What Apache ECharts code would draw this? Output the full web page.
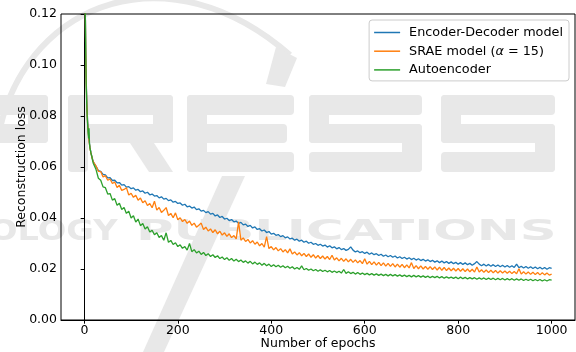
<!DOCTYPE html>
<html>
<head>
<meta charset="utf-8">
<script src="https://cdn.jsdelivr.net/npm/echarts@6/dist/echarts.min.js"></script>
<style>
html,body{margin:0;padding:0;background:#fff;}
#chart{width:576px;height:352px;}
</style>
</head>
<body>
<div id="chart"></div>
<script>
const epochs = [0,1,2,3,4,5,6,7,8,9,10,11,12,13,14,15,16,17,18,19,20,
25,30,35,40,45,50,55,60,65,70,75,80,85,90,95,100,
105,110,115,120,125,130,135,140,145,150,155,160,165,170,175,180,185,190,195,200,
205,210,215,220,225,230,235,240,245,250,255,260,265,270,275,280,285,290,295,300,
305,310,315,320,325,330,335,340,345,350,355,360,365,370,375,380,385,390,395,400,
405,410,415,420,425,430,435,440,445,450,455,460,465,470,475,480,485,490,495,500,
505,510,515,520,525,530,535,540,545,550,555,560,565,570,575,580,585,590,595,600,
605,610,615,620,625,630,635,640,645,650,655,660,665,670,675,680,685,690,695,700,
705,710,715,720,725,730,735,740,745,750,755,760,765,770,775,780,785,790,795,800,
805,810,815,820,825,830,835,840,845,850,855,860,865,870,875,880,885,890,895,900,
905,910,915,920,925,930,935,940,945,950,955,960,965,970,975,980,985,990,995,1000];

const encoderDecoder = [0.30,0.16,0.122,0.105,0.094,0.087,0.082,0.078,0.0752,0.0728,0.0708,0.0692,0.0678,0.0667,0.0657,0.0649,0.0641,0.0634,0.0628,0.0622,0.0617,
0.0603,0.0586,0.0583,0.0571,0.0569,0.0557,0.0558,0.0547,0.0548,0.0538,0.0539,0.0529,0.0531,0.0521,0.0523,0.0515,
0.0518,0.0509,0.0512,0.0503,0.0506,0.0497,0.0501,0.0491,0.0494,0.0486,
0.0488,0.0479,0.0483,0.0474,0.0477,0.0468,0.0471,0.0462,0.0465,0.0457,
0.0459,0.0450,0.0454,0.0444,0.0447,0.0439,0.0443,0.0433,0.0436,0.0427,
0.0430,0.0421,0.0425,0.0415,0.0418,0.0408,0.0412,0.0402,0.0406,0.0396,
0.0399,0.0390,0.0394,0.0385,0.0388,0.0379,0.0383,0.0373,0.0376,0.0367,
0.0371,0.0361,0.0365,0.0355,0.0358,0.0349,0.0353,0.0343,0.0347,0.0337,
0.0340,0.0332,0.0335,0.0327,0.0331,0.0322,0.0326,0.0318,0.0321,0.0313,
0.0317,0.0309,0.0313,0.0305,0.0309,0.0301,0.0305,0.0297,0.0300,0.0293,
0.0297,0.0290,0.0294,0.0286,0.0291,0.0283,0.0287,0.0279,0.0284,0.0276,
0.0280,0.0273,0.0277,0.0287,0.0274,0.0267,0.0271,0.0264,0.0268,0.0261,
0.0266,0.0258,0.0263,0.0256,0.0260,0.0253,0.0258,0.0250,0.0255,0.0248,
0.0253,0.0246,0.0251,0.0243,0.0248,0.0241,0.0246,0.0239,0.0244,0.0237,
0.0242,0.0235,0.0240,0.0233,0.0238,0.0231,0.0236,0.0229,0.0234,0.0227,
0.0232,0.0225,0.0231,0.0224,0.0229,0.0222,0.0228,0.0221,0.0226,0.0219,
0.0225,0.0218,0.0224,0.0217,0.0222,0.0215,0.0221,0.0229,0.0219,0.0213,
0.0219,0.0212,0.0218,0.0211,0.0217,0.0210,0.0216,0.0209,0.0215,0.0208,
0.0214,0.0207,0.0213,0.0206,0.0219,0.0205,0.0211,0.0204,0.0210,0.0203,
0.0209,0.0202,0.0208,0.0201,0.0207,0.0200,0.0206,0.0199,0.0205,0.0202];

const srae = [0.30,0.16,0.121,0.104,0.093,0.086,0.081,0.077,0.0745,0.0722,0.0703,0.0688,0.0675,0.0664,0.0655,0.0647,0.0640,0.0633,0.0627,0.0621,0.0616,
0.0604,0.0583,0.0582,0.0561,0.0566,0.0548,0.0553,0.0535,0.0541,0.0520,0.0528,0.0508,0.0512,0.0519,0.0490,0.0497,
0.0481,0.0489,0.0470,0.0478,0.0460,0.0468,0.0449,0.0457,0.0440,0.0466,
0.0431,0.0441,0.0422,0.0430,0.0441,0.0410,0.0418,0.0401,0.0420,0.0393,
0.0401,0.0386,0.0394,0.0379,0.0388,0.0371,0.0380,0.0364,0.0372,0.0380,
0.0355,0.0364,0.0349,0.0357,0.0343,0.0354,0.0338,0.0348,0.0333,0.0342,
0.0328,0.0338,0.0323,0.0331,0.0318,0.0385,0.0313,0.0322,0.0308,0.0316,
0.0302,0.0311,0.0297,0.0306,0.0291,0.0300,0.0286,0.0327,0.0280,0.0288,
0.0275,0.0284,0.0271,0.0280,0.0267,0.0276,0.0263,0.0279,0.0259,0.0267,
0.0255,0.0264,0.0252,0.0261,0.0249,0.0259,0.0246,0.0256,0.0243,0.0253,
0.0241,0.0251,0.0239,0.0249,0.0237,0.0254,0.0235,0.0244,0.0232,0.0242,
0.0230,0.0240,0.0228,0.0238,0.0226,0.0236,0.0224,0.0233,0.0221,0.0240,
0.0219,0.0230,0.0217,0.0228,0.0215,0.0226,0.0213,0.0224,0.0211,0.0222,
0.0210,0.0221,0.0208,0.0219,0.0207,0.0218,0.0205,0.0216,0.0204,0.0225,
0.0202,0.0213,0.0201,0.0212,0.0200,0.0210,0.0199,0.0209,0.0198,0.0208,
0.0196,0.0207,0.0195,0.0206,0.0194,0.0204,0.0193,0.0203,0.0192,0.0202,
0.0191,0.0201,0.0190,0.0200,0.0189,0.0199,0.0188,0.0208,0.0188,0.0197,
0.0187,0.0196,0.0186,0.0195,0.0185,0.0194,0.0184,0.0193,0.0184,0.0192,
0.0183,0.0191,0.0182,0.0190,0.0181,0.0201,0.0180,0.0189,0.0180,0.0188,
0.0179,0.0187,0.0178,0.0186,0.0177,0.0185,0.0177,0.0184,0.0176,0.0180];

const autoencoder = [0.30,0.16,0.121,0.103,0.092,0.085,0.080,0.0765,0.0735,0.0712,0.0752,0.0690,0.0675,0.0668,0.0655,0.0660,0.0641,0.0630,0.0628,0.0615,0.0608,
0.0590,0.0556,0.0548,0.0522,0.0519,0.0494,0.0496,0.0470,0.0476,0.0450,0.0458,0.0433,0.0441,0.0418,0.0427,0.0400,
0.0409,0.0384,0.0396,0.0370,0.0378,0.0357,0.0366,0.0345,0.0352,0.0334,
0.0342,0.0324,0.0331,0.0313,0.0342,0.0305,0.0312,0.0296,0.0303,0.0288,
0.0295,0.0281,0.0288,0.0274,0.0300,0.0268,0.0276,0.0263,0.0270,0.0257,
0.0265,0.0253,0.0260,0.0249,0.0256,0.0245,0.0252,0.0241,0.0247,0.0237,
0.0244,0.0234,0.0241,0.0231,0.0238,0.0229,0.0235,0.0226,0.0232,0.0223,
0.0230,0.0220,0.0227,0.0218,0.0224,0.0215,0.0222,0.0213,0.0219,0.0210,
0.0217,0.0209,0.0215,0.0207,0.0213,0.0205,0.0211,0.0203,0.0209,0.0200,
0.0206,0.0199,0.0212,0.0197,0.0202,0.0195,0.0200,0.0193,0.0198,0.0191,
0.0197,0.0190,0.0195,0.0189,0.0194,0.0187,0.0192,0.0186,0.0191,0.0184,
0.0198,0.0183,0.0189,0.0182,0.0187,0.0180,0.0186,0.0179,0.0184,0.0178,
0.0183,0.0177,0.0182,0.0176,0.0181,0.0175,0.0180,0.0174,0.0179,0.0173,
0.0179,0.0173,0.0178,0.0172,0.0177,0.0171,0.0176,0.0170,0.0175,0.0169,
0.0175,0.0169,0.0174,0.0168,0.0173,0.0167,0.0172,0.0166,0.0171,0.0166,
0.0171,0.0165,0.0170,0.0164,0.0169,0.0164,0.0168,0.0163,0.0168,0.0162,
0.0168,0.0162,0.0167,0.0161,0.0166,0.0161,0.0166,0.0160,0.0165,0.0160,
0.0165,0.0159,0.0164,0.0159,0.0164,0.0158,0.0163,0.0158,0.0163,0.0157,
0.0162,0.0157,0.0162,0.0156,0.0161,0.0156,0.0161,0.0155,0.0160,0.0155,
0.0160,0.0154,0.0159,0.0154,0.0159,0.0153,0.0158,0.0153,0.0158,0.0156];

const seriesNames = ['Encoder-Decoder model', 'SRAE model (α = 15)', 'Autoencoder'];
const seriesColors = ['#1f77b4', '#ff7f0e', '#2ca02c'];
const xTicks = [0, 200, 400, 600, 800, 1000];
const xLabel = 'Number of epochs';
const yLabel = 'Reconstruction loss';

const font = 'DejaVu Sans';
const wm = '#e8e8e8';

function pairs(vals) {
  const out = [];
  for (let i = 0; i < epochs.length && i < vals.length; i++) out.push([epochs[i], vals[i]]);
  return out;
}

const chart = echarts.init(document.getElementById('chart'), null, {renderer: 'canvas'});
const allVals = [encoderDecoder, srae, autoencoder];

function bar(x, y, w, h) {
  return {type: 'rect', z: -100, silent: true, shape: {x: x, y: y, width: w, height: h, r: 4}, style: {fill: wm}};
}
function poly(pts) {
  return {type: 'polygon', z: -100, silent: true, shape: {points: pts}, style: {fill: wm}};
}
function wtext(t, x, y, size, sx) {
  return {type: 'text', x: x, y: y, scaleX: sx, z: -100, silent: true,
    style: {text: t, font: 'bold ' + size + 'px "DejaVu Sans"', fill: wm, textAlign: 'left', textVerticalAlign: 'middle'}};
}
function sLetter(x0, w) {
  return [bar(x0, 95, w, 20), bar(x0, 95, 20, 48), bar(x0, 124, w, 19), bar(x0 + w - 20, 124, 20, 48), bar(x0, 152, w, 20)];
}

const watermark = [
  {type: 'bezierCurve', z: -100, silent: true,
    shape: {x1: 0, y1: 128, cpx1: 30, cpy1: 0, cpx2: 170, cpy2: -50, x2: 290, y2: 55},
    style: {stroke: wm, lineWidth: 6, fill: null}},
  poly([[276,47],[297,58],[285,87],[266,84]]),
  poly([[222,176],[245,176],[164,352],[143,352]]),
  // P
  bar(-60, 95, 108, 20), bar(28, 95, 20, 48), bar(-60, 124, 108, 19),
  // R
  bar(68, 95, 20, 77), bar(68, 95, 105, 20), bar(153, 95, 20, 48), bar(68, 124, 105, 19),
  poly([[128,140],[152,140],[173,172],[149,172]]),
  // E
  bar(187, 95, 20, 77), bar(187, 95, 107, 20), bar(187, 124, 100, 19), bar(187, 152, 107, 20)
].concat(sLetter(309, 113), sLetter(441, 114), [
  wtext('OLOGY', -11, 233, 28, 1.2),
  wtext('PUBLICATIONS', 136, 233, 28, 1.83)
]);

chart.setOption({
  animation: false,
  backgroundColor: '#ffffff',
  textStyle: {fontFamily: font},
  graphic: {elements: watermark},
  grid: {left: 61, right: 1, top: 14, bottom: 32, containLabel: false, outerBoundsMode: 'none',
    show: true, borderColor: '#000', borderWidth: 1, backgroundColor: 'transparent'},
  legend: {
    orient: 'vertical', right: 7, top: 20,
    icon: 'rect', itemWidth: 26, itemHeight: 1.5, itemGap: 4.7,
    padding: [5.5, 6, 4, 5],
    backgroundColor: 'rgba(255,255,255,0.8)', borderColor: '#cccccc', borderWidth: 1, borderRadius: 3,
    data: seriesNames,
    formatter: function (name) {
      if (name === seriesNames[1]) return '{n|SRAE model (}{i|α}{n| = 15)}';
      return name;
    },
    textStyle: {fontSize: 12.8, lineHeight: 14, color: '#000', fontFamily: font, padding: [0, 0, 0, 4],
      rich: {n: {fontSize: 12.8, lineHeight: 14, color: '#000', fontFamily: font},
             i: {fontSize: 12.8, lineHeight: 14, color: '#000', fontFamily: font, fontStyle: 'italic'}}}
  },
  xAxis: {
    type: 'value', min: -50, max: 1050,
    name: xLabel, nameLocation: 'middle', nameGap: 17, nameMoveOverlap: false,
    nameTextStyle: {fontSize: 12.5, color: '#000', fontFamily: font},
    axisLine: {show: true, onZero: false, lineStyle: {color: '#000', width: 1}},
    axisTick: {show: true, length: 3.7, lineStyle: {color: '#000', width: 1}, customValues: xTicks},
    axisLabel: {fontSize: 12.5, color: '#000', margin: 4, customValues: xTicks, formatter: v => String(v)},
    splitLine: {show: false}
  },
  yAxis: {
    type: 'value', min: 0, max: 0.12, interval: 0.02,
    name: yLabel, nameLocation: 'middle', nameGap: 33, nameMoveOverlap: false,
    nameTextStyle: {fontSize: 12.5, color: '#000', fontFamily: font},
    axisLine: {show: true, lineStyle: {color: '#000', width: 1}},
    axisTick: {show: true, length: 3.7, lineStyle: {color: '#000', width: 1}},
    axisLabel: {fontSize: 12.5, color: '#000', margin: 4, formatter: v => v.toFixed(2)},
    splitLine: {show: false}
  },
  series: seriesNames.map((n, k) => ({
    name: n, type: 'line', data: pairs(allVals[k]),
    symbol: 'none', showSymbol: false, clip: true,
    color: seriesColors[k],
    lineStyle: {color: seriesColors[k], width: 1.3},
    itemStyle: {color: seriesColors[k]},
    emphasis: {disabled: true}
  }))
});
</script>
</body>
</html>
